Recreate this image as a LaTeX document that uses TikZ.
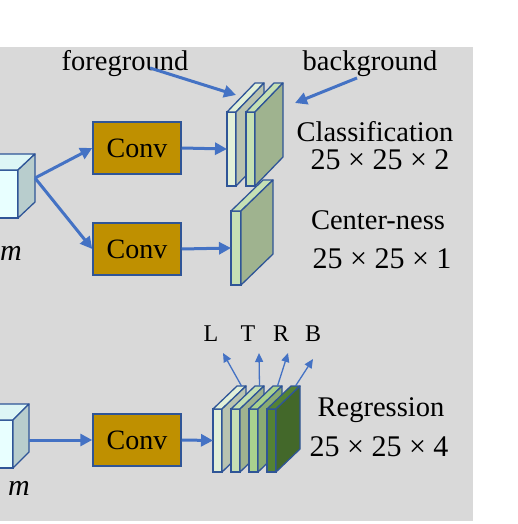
\documentclass[tikz,border=0pt]{standalone}
\usepackage{fontspec}
\setmainfont{Liberation Serif}
\usepackage{tikz}
\usetikzlibrary{positioning,calc,arrows.meta}
\usepackage{xcolor}

\definecolor{bggray}{HTML}{D9D9D9}
\definecolor{arrowblue}{HTML}{4472C4}
\definecolor{edgeblue}{HTML}{2F5597}
\definecolor{convfill}{HTML}{BF9000}
\definecolor{cubefront}{HTML}{E8FFFF}
\definecolor{cubetopc}{HTML}{DDF6F6}
\definecolor{cubeside}{HTML}{B8CDCD}
\definecolor{mapA}{HTML}{E2F0D9}
\definecolor{mapAside}{HTML}{B9C3B0}
\definecolor{mapB}{HTML}{C5E0B4}
\definecolor{mapBside}{HTML}{9FB38F}
\definecolor{mapC}{HTML}{A9D18E}
\definecolor{mapCside}{HTML}{8BAB73}
\definecolor{mapD}{HTML}{548235}
\definecolor{mapDside}{HTML}{43682A}

% top and side faces of a box drawn behind its front node
\newcommand{\boxfaces}[5]{%
  \draw[face, fill=#4] (#1.north west) -- (#1.north east) -- ++(#2,#3)
    -- ($(#1.north west)+(#2,#3)$) -- cycle;
  \draw[face, fill=#5] (#1.north east) -- (#1.south east) -- ++(#2,#3)
    -- ($(#1.north east)+(#2,#3)$) -- cycle;
}

\begin{document}
\begin{tikzpicture}[
    x=1pt, y=-1pt,
    conv/.style={
        rectangle,
        draw=edgeblue,
        line width=1.5pt,
        fill=convfill,
        minimum width=88pt,
        minimum height=52pt,
        inner sep=0pt,
        font=\fontsize{28}{30}\selectfont
    },
    slab/.style={
        rectangle,
        draw=edgeblue,
        line width=1.3pt,
        inner sep=0pt,
        outer sep=0pt,
        minimum width=9pt
    },
    face/.style={
        draw=edgeblue,
        line width=1.3pt,
        line join=round
    },
    arrow/.style={
        -{Triangle[length=12pt,width=12pt]},
        draw=arrowblue,
        line width=3pt
    },
    thinarrow/.style={
        -{Triangle[length=9pt,width=8pt]},
        draw=arrowblue,
        line width=1.3pt
    },
    label/.style={
        anchor=base,
        inner sep=0pt,
        font=\fontsize{28.5}{30}\selectfont
    },
    size/.style={
        anchor=base,
        inner sep=0pt,
        font=\fontsize{30}{32}\selectfont
    },
    small/.style={
        anchor=base,
        inner sep=0pt,
        font=\fontsize{24}{26}\selectfont
    }
]

\useasboundingbox (0,0) rectangle (518,524);
\clip (0,0) rectangle (518,524);
\fill[bggray] (0,47) rectangle (473,521);

% input feature cubes
\node[slab, minimum width=48pt, minimum height=48pt, fill=cubefront] (cubetop) at (-6,194) {};
\boxfaces{cubetop}{17}{-16}{cubetopc}{cubeside}
\node[slab, minimum width=48pt, minimum height=48pt, fill=cubefront] (cubebot) at (-11,444) {};
\boxfaces{cubebot}{16}{-16}{cubetopc}{cubeside}

\node[size] (mtop) at (11,260) {\textit{m}};
\node[size] (mbot) at (19,495) {\textit{m}};

\coordinate (cubetopout) at ($(cubetop.east)+(17,-16)$);
\coordinate (cubebotout) at ($(cubebot.east)+(16,-4)$);

% conv layers
\node[conv] (convtop) at (137,148) {Conv};
\node[conv] (convmid) at (137,249) {Conv};
\node[conv] (convbot) at (137,440) {Conv};

% classification maps
\node[slab, minimum height=74pt, fill=mapA] (clsA) at (231.5,149) {};
\boxfaces{clsA}{28}{-29}{mapA}{mapAside}
\node[slab, minimum height=74pt, fill=mapB] (clsB) at (250.5,149) {};
\boxfaces{clsB}{28}{-29}{mapB}{mapBside}

% center-ness map
\node[slab, minimum width=10pt, minimum height=74pt, fill=mapB] (ctr) at (236,248) {};
\boxfaces{ctr}{32}{-31}{mapB}{mapBside}

% regression maps
\node[slab, minimum height=63pt, fill=mapA] (regA) at (217.5,440.5) {};
\boxfaces{regA}{24}{-23}{mapA}{mapAside}
\node[slab, minimum height=63pt, fill=mapB] (regB) at (235.5,440.5) {};
\boxfaces{regB}{24}{-23}{mapB}{mapBside}
\node[slab, minimum height=63pt, fill=mapC] (regC) at (253.5,440.5) {};
\boxfaces{regC}{24}{-23}{mapC}{mapCside}
\node[slab, minimum height=63pt, fill=mapD] (regD) at (271.5,440.5) {};
\boxfaces{regD}{24}{-23}{mapD}{mapDside}

\draw[arrow] (cubetopout) -- (convtop.west);
\draw[arrow] (cubetopout) -- (convmid.west);
\draw[arrow] (cubebotout) -- (convbot.west);
\draw[arrow] (convtop.east) -- (clsA.west);
\draw[arrow] (convmid.east) -- (ctr.west);
\draw[arrow] (convbot.east) -- (regA.west);

% labels
\node[label] (fg) at (125,71) {foreground};
\node[label] (bg) at (370,71) {background};
\coordinate (fgtip) at (236,95);
\coordinate (bgtip) at (295,103);
\draw[arrow] ($(fg.base)+(25,-3)$) -- (fgtip);
\draw[arrow] ($(bg.base)+(-13,7)$) -- (bgtip);

\node[label] (clsname) at (375,141) {Classification};
\node[size] (clssize) at (380,169) {25 × 25 × 2};
\node[label] (ctrname) at (378,229) {Center-ness};
\node[size] (ctrsize) at (382,268) {25 × 25 × 1};
\node[label] (regname) at (381,416) {Regression};
\node[size] (regsize) at (379,456) {25 × 25 × 4};

% box offsets
\node[small] (lbl) at (211,341) {L};
\node[small] (tbl) at (248,341) {T};
\node[small] (rbl) at (281,341) {R};
\node[small] (bbl) at (313,341) {B};
\coordinate (ltip) at (223,353);
\coordinate (ttip) at (259,353);
\coordinate (rtip) at (288,353);
\coordinate (btip) at (313,359);
\draw[thinarrow] ($(regA.north)+(24,-23)$) -- (ltip);
\draw[thinarrow] ($(regB.north)+(24,-23)$) -- (ttip);
\draw[thinarrow] ($(regC.north)+(24,-23)$) -- (rtip);
\draw[thinarrow] ($(regD.north)+(24,-23)$) -- (btip);

\end{tikzpicture}
\end{document}
